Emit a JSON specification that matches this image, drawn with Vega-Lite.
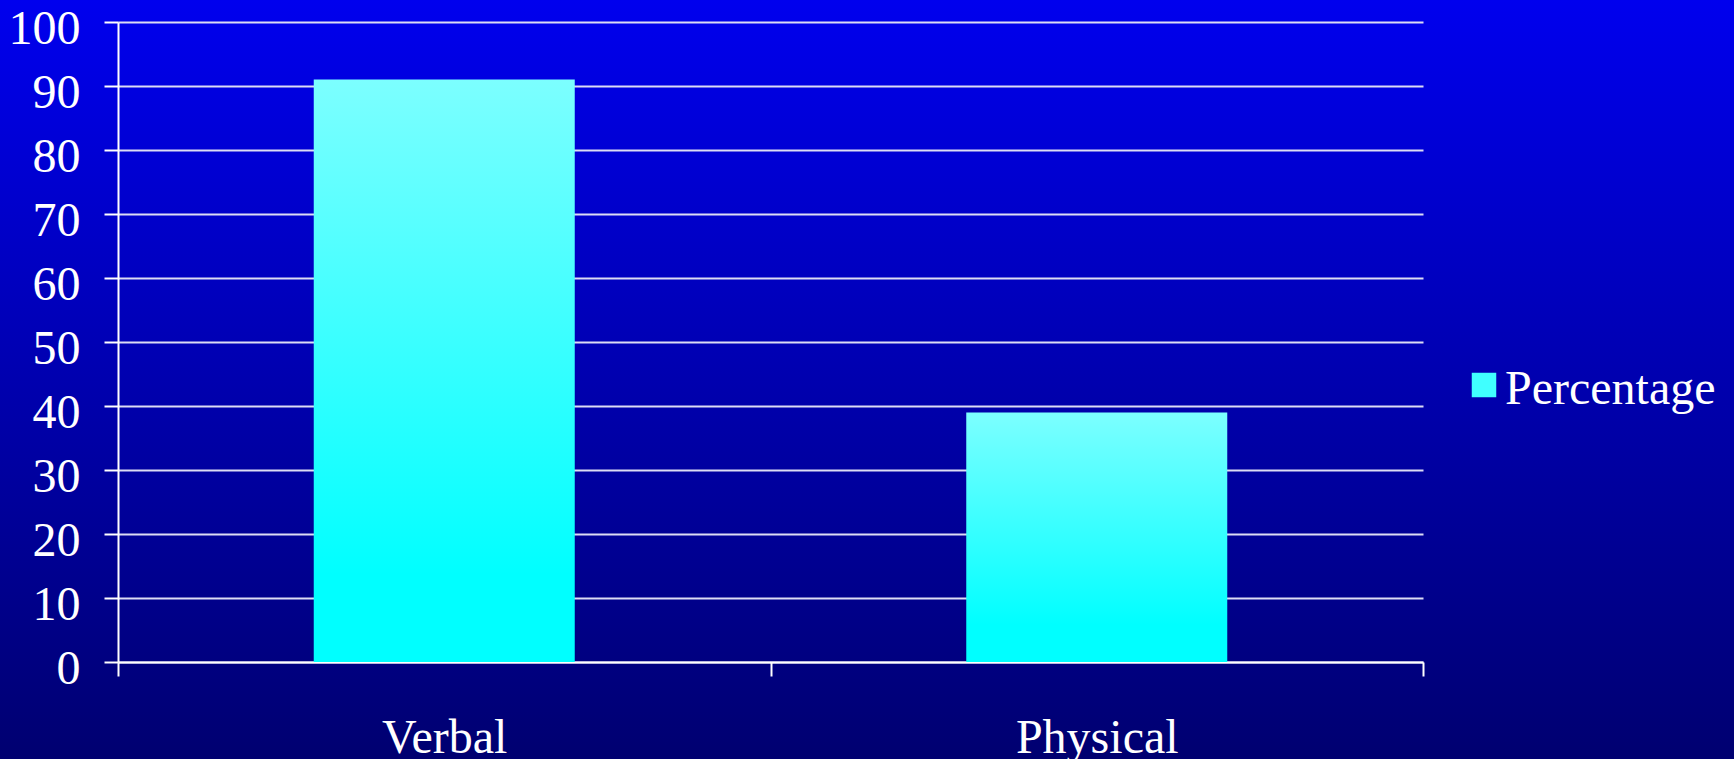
{
  "$schema": "https://vega.github.io/schema/vega-lite/v6.json",
  "width": 1734,
  "height": 759,
  "autosize": {"type": "none"},
  "padding": 0,
  "background": "#0000b0",
  "config": {
    "view": {
      "stroke": null,
      "fill": {
        "gradient": "linear",
        "x1": 0, "y1": 0, "x2": 0, "y2": 1,
        "stops": [
          {"offset": 0, "color": "#0000ee"},
          {"offset": 1, "color": "#000070"}
        ]
      }
    },
    "font": "Liberation Serif",
    "axis": {
      "labelFont": "Liberation Serif",
      "labelFontSize": 48,
      "labelColor": "#ffffff",
      "domainColor": "#ffffff",
      "domainWidth": 2,
      "tickColor": "#ffffff",
      "tickWidth": 2,
      "tickSize": 14,
      "gridColor": "#dcdcf4",
      "gridWidth": 2,
      "gridOpacity": 1,
      "title": null
    }
  },
  "data": {
    "values": [
      {"type": "Verbal", "series": "Percentage", "value": 91},
      {"type": "Physical", "series": "Percentage", "value": 39}
    ]
  },
  "layer": [
    {
      "mark": {
        "type": "bar",
        "width": {"band": 0.4},
        "color": {
          "gradient": "linear",
          "x1": 0, "y1": 0, "x2": 0, "y2": 1,
          "stops": [
            {"offset": 0, "color": "#7cffff"},
            {"offset": 0.85, "color": "#00ffff"},
            {"offset": 1, "color": "#00ffff"}
          ]
        }
      },
      "encoding": {
        "x": {
          "field": "type",
          "type": "nominal",
          "sort": ["Verbal", "Physical"],
          "scale": {"range": [118, 1423], "paddingInner": 0, "paddingOuter": 0},
          "axis": {
            "orient": "bottom",
            "offset": -97,
            "labelAngle": 0,
            "tickBand": "extent",
            "labelPadding": 38,
            "grid": false
          }
        },
        "y": {
          "field": "value",
          "type": "quantitative",
          "scale": {"domain": [0, 100], "range": [662, 22], "nice": false},
          "axis": {
            "orient": "left",
            "offset": -118,
            "values": [0, 10, 20, 30, 40, 50, 60, 70, 80, 90, 100],
            "labelPadding": 24,
            "labelOffset": 7,
            "grid": true
          }
        }
      }
    },
    {
      "mark": {"type": "point", "filled": true, "opacity": 0},
      "encoding": {
        "x": {"field": "type", "type": "nominal", "sort": ["Verbal", "Physical"]},
        "y": {"field": "value", "type": "quantitative"},
        "color": {
          "field": "series",
          "type": "nominal",
          "scale": {"range": ["#40ffff"]},
          "legend": {
            "title": null,
            "orient": "none",
            "legendX": 1460,
            "legendY": 361,
            "padding": 0,
            "symbolType": "square",
            "symbolSize": 600,
            "symbolOpacity": 1,
            "symbolStrokeWidth": 0,
            "labelFont": "Liberation Serif",
            "labelFontSize": 48,
            "labelColor": "#ffffff",
            "labelOffset": -3,
            "labelLimit": 400,
            "encode": {
              "symbols": {
                "update": {
                  "fill": {"value": {
                    "gradient": "linear",
                    "x1": 0, "y1": 0, "x2": 0, "y2": 1,
                    "stops": [
                      {"offset": 0, "color": "#80ffff"},
                      {"offset": 1, "color": "#00ffff"}
                    ]
                  }},
                  "opacity": {"value": 1}
                }
              },
              "labels": {
                "update": {"dy": {"value": 5}}
              }
            }
          }
        }
      }
    }
  ]
}
